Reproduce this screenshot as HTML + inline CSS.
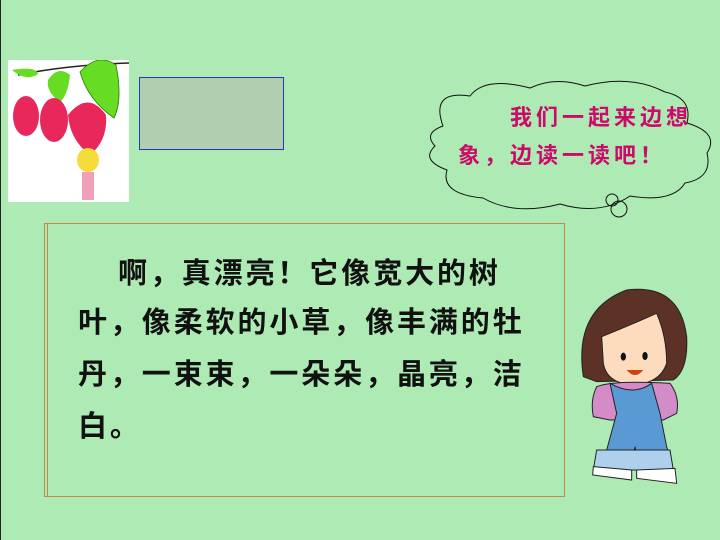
<!DOCTYPE html>
<html><head><meta charset="utf-8"><style>
html,body{margin:0;padding:0}
body{width:720px;height:540px;background:#aeeab3;position:relative;overflow:hidden;font-family:"Liberation Sans","Noto Sans CJK SC",sans-serif}
.abs{position:absolute}
.line{position:absolute;font-size:29px;font-weight:bold;color:#111;letter-spacing:2.9px;white-space:nowrap;line-height:30px}
.cl{position:absolute;font-size:22px;font-weight:bold;color:#cc0a6a;letter-spacing:4px;white-space:nowrap;line-height:24px}
</style></head><body>
<div class="abs" style="left:0;top:0;width:1px;height:540px;background:#222"></div>

<svg class="abs" style="left:8px;top:60px" width="121" height="142" viewBox="0 0 121 142">
<rect width="121" height="142" fill="#fff"/>
<path d="M10 15 Q60 5 121 3" stroke="#222" stroke-width="1.5" fill="none"/>
<path d="M72 12 Q90 -8 108 5 Q115 40 106 58 Q80 40 72 12Z" fill="#66dd22" stroke="#2a7a10" stroke-width="0.8"/>
<path d="M40 20 Q50 5 62 15 Q60 35 52 42 Q38 32 40 20Z" fill="#66dd22"/>
<path d="M4 10 Q28 6 30 14 Q18 22 4 10Z" fill="#66dd22"/>
<ellipse cx="18" cy="56" rx="13" ry="20" fill="#e8285a"/>
<ellipse cx="46" cy="60" rx="14" ry="22" fill="#e8285a"/>
<path d="M60 55 Q80 30 98 55 Q100 80 82 95 Q62 80 60 55Z" fill="#e8285a"/>
<ellipse cx="80" cy="100" rx="11" ry="12" fill="#f5dc3a"/>
<rect x="74" y="112" width="12" height="28" fill="#f0a0b8"/>
</svg>

<div class="abs" style="left:139px;top:77px;width:143px;height:71px;background:#b0cfb0;border:1px solid #2838b8"></div>

<svg class="abs" style="left:415px;top:78px" width="305" height="140" viewBox="0 0 305 140">
<path d="M28 48 Q15 12 55 18 Q70 -2 115 10 Q140 -2 170 8 Q215 -4 250 14 Q278 20 272 45 Q305 55 292 75 Q298 100 270 105 Q258 125 215 118 Q185 138 145 126 Q100 138 68 120 Q25 116 32 92 Q5 82 20 68 Q8 55 28 48Z" fill="none" stroke="#111" stroke-width="1"/>
<circle cx="197" cy="122" r="6" fill="none" stroke="#111"/>
<circle cx="204" cy="131" r="8" fill="none" stroke="#111"/>
</svg>
<div class="cl" style="left:510px;top:106px">我们一起来边想</div>
<div class="cl" style="left:458px;top:144px">象，边读一读吧！</div>

<div class="abs" style="left:44px;top:223px;width:519px;height:272px;border:1px solid #c8884a;box-shadow:inset 3px 0 0 -1px #aeeab3, inset 4px 0 0 -1px #c8884a"></div>
<div class="line" style="left:118px;top:259px">啊，真漂亮！它像宽大的树</div>
<div class="line" style="left:78px;top:308px">叶，像柔软的小草，像丰满的牡</div>
<div class="line" style="left:78px;top:360px">丹，一束束，一朵朵，晶亮，洁</div>
<div class="line" style="left:78px;top:412px">白。</div>

<svg class="abs" style="left:560px;top:270px" width="160" height="240" viewBox="0 0 480 720">
<path d="M70 320 Q40 120 200 60 Q360 40 380 200 Q385 300 340 330 L110 335Z" fill="#5c3226" stroke="#222" stroke-width="3"/>
<path d="M125 200 Q200 170 290 130 Q320 200 320 280 Q300 340 220 345 Q140 340 130 280Z" fill="#fcdcbc" stroke="#222" stroke-width="3"/>
<ellipse cx="190" cy="260" rx="8" ry="12" fill="#111"/><ellipse cx="255" cy="258" rx="8" ry="12" fill="#111"/>
<path d="M200 300 Q225 330 250 300Z" fill="#d04010"/>
<path d="M110 350 Q160 330 330 340 Q360 380 350 430 L310 450 L150 450 L100 440 Q90 390 110 350Z" fill="#d48cc8" stroke="#222" stroke-width="3"/>
<path d="M150 340 L170 430 L140 540 L110 600 L210 610 L225 530 L240 610 L340 600 L320 530 L300 430 L275 340 Q220 380 150 340Z" fill="#5a9ad4" stroke="#222" stroke-width="3"/>
<path d="M110 540 L330 540 L340 600 L100 600Z" fill="#aed0ec" stroke="#222" stroke-width="3"/>
<path d="M100 590 L215 600 L215 630 L98 615Z" fill="#fff" stroke="#222" stroke-width="3"/>
<path d="M230 600 L345 595 L350 640 L230 625Z" fill="#fff" stroke="#222" stroke-width="3"/>
</svg>
</body></html>
